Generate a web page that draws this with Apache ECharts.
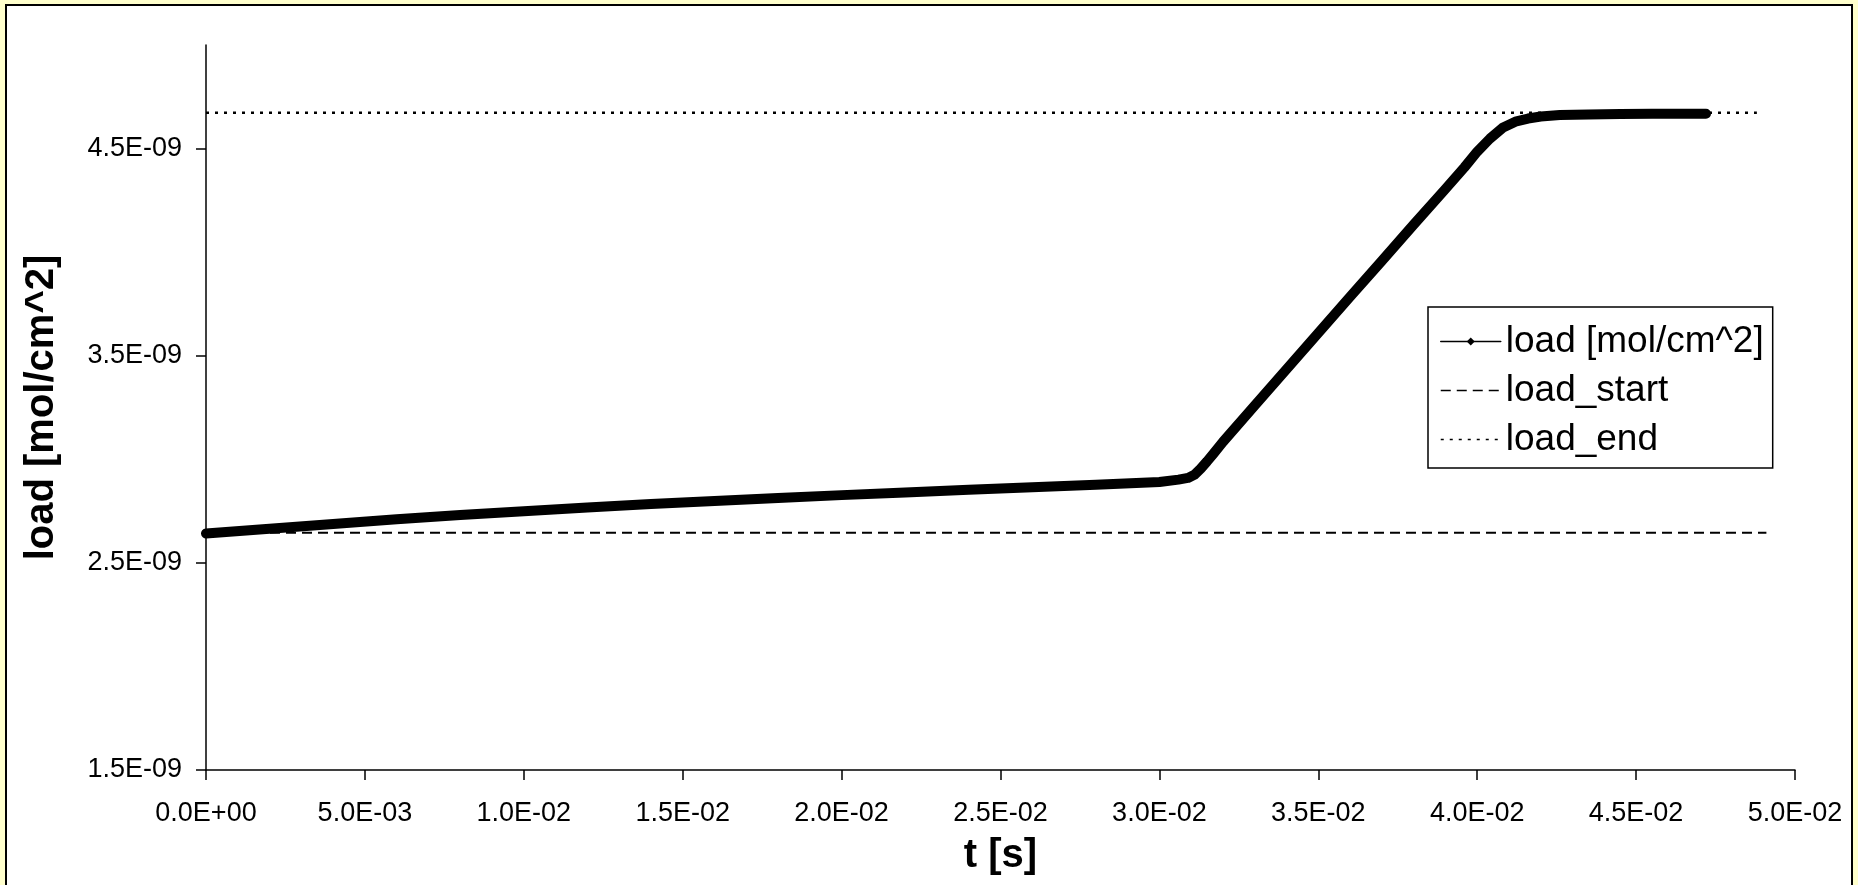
<!DOCTYPE html>
<html>
<head>
<meta charset="utf-8">
<title>load vs t</title>
<script src="https://cdn.jsdelivr.net/npm/echarts@6/dist/echarts.min.js"></script>
<style>
  html, body { margin: 0; padding: 0; background: #FFFFCC; }
  #chart { width: 1858px; height: 885px; }
</style>
</head>
<body>
<div id="chart"></div>
<script>
// Time axis values [s] and surface load [mol/cm^2] of the measured curve
const timeS = [
  0.0000, 0.0020, 0.0040, 0.0060, 0.0080, 0.0100, 0.0120, 0.0140, 0.0160, 0.0180,
  0.0200, 0.0220, 0.0240, 0.0260, 0.0280, 0.0300, 0.0306, 0.0309, 0.0311, 0.0313,
  0.0315, 0.0317, 0.0320, 0.0330, 0.0340, 0.0350, 0.0360, 0.0370, 0.0380, 0.0390,
  0.0396, 0.0400, 0.0404, 0.0408, 0.0412, 0.0416, 0.0420, 0.0426, 0.0435, 0.0445,
  0.0455, 0.0465, 0.0472
];
const loadMol = [
  2.642e-9, 2.665e-9, 2.688e-9, 2.710e-9, 2.731e-9, 2.749e-9, 2.767e-9, 2.784e-9, 2.799e-9, 2.813e-9,
  2.827e-9, 2.840e-9, 2.853e-9, 2.865e-9, 2.877e-9, 2.890e-9, 2.902e-9, 2.910e-9, 2.925e-9, 2.955e-9,
  2.990e-9, 3.027e-9, 3.084e-9, 3.260e-9, 3.435e-9, 3.610e-9, 3.785e-9, 3.958e-9, 4.133e-9, 4.305e-9,
  4.410e-9, 4.485e-9, 4.548e-9, 4.600e-9, 4.630e-9, 4.645e-9, 4.655e-9, 4.662e-9, 4.665e-9, 4.667e-9,
  4.668e-9, 4.668e-9, 4.668e-9
];

// Reference levels: initial and final load
const loadStartT = [0, 0.0491];
const loadStartV = [2.645e-9, 2.645e-9];
const loadEndT = [0, 0.0488];
const loadEndV = [4.673e-9, 4.673e-9];

// Axis ranges and tick positions
const xTicks = [0, 0.005, 0.01, 0.015, 0.02, 0.025, 0.03, 0.035, 0.04, 0.045, 0.05];
const yTicks = [1.5e-9, 2.5e-9, 3.5e-9, 4.5e-9];
const xMin = 0, xMax = 0.05, xStep = 0.005;
const yMin = 1.5e-9, yMax = 5.0e-9;

const names = ['load [mol/cm^2]', 'load_start', 'load_end'];
const FONT = '"Liberation Sans", Arial, sans-serif';

// Scientific notation like 5.0E-03
function sci(v) {
  if (Math.abs(v) < 1e-20) return '0.0E+00';
  const parts = v.toExponential(1).split('e');
  const exp = parseInt(parts[1], 10);
  return parts[0] + 'E' + (exp < 0 ? '-' : '+') + String(Math.abs(exp)).padStart(2, '0');
}

const zip = (a, b) => a.map((x, i) => [x, b[i]]);

const chart = echarts.init(document.getElementById('chart'), null, { renderer: 'canvas' });

chart.setOption({
  backgroundColor: '#FFFFCC',
  animation: false,
  textStyle: { fontFamily: FONT },
  graphic: [{
    type: 'rect',
    z: -10,
    silent: true,
    shape: { x: 6, y: 5, width: 1846, height: 900 },
    style: { fill: '#ffffff', stroke: '#000000', lineWidth: 2 }
  }],
  grid: {
    left: 206, right: 63, top: 45, bottom: 115,
    containLabel: false,
    outerBoundsMode: 'none'
  },
  xAxis: {
    type: 'value',
    min: xMin, max: xMax, interval: xStep,
    name: 't [s]',
    nameLocation: 'middle',
    nameGap: 66,
    nameTextStyle: { fontSize: 40, fontWeight: 'bold', color: '#000', fontFamily: FONT },
    axisLine: { show: true, lineStyle: { color: '#000', width: 1.5 } },
    axisTick: { show: true, inside: false, length: 10, lineStyle: { color: '#000', width: 1.5 }, customValues: xTicks },
    axisLabel: {
      customValues: xTicks,
      formatter: sci, fontSize: 27, color: '#000', margin: 30, fontFamily: FONT
    },
    splitLine: { show: false }
  },
  yAxis: {
    type: 'value',
    min: yMin, max: yMax,
    name: 'load [mol/cm^2]',
    nameLocation: 'middle',
    nameGap: 144,
    nameRotate: 90,
    nameTextStyle: { fontSize: 40, fontWeight: 'bold', color: '#000', fontFamily: FONT },
    axisLine: { show: true, lineStyle: { color: '#000', width: 1.5 } },
    axisTick: { show: true, inside: false, length: 10, lineStyle: { color: '#000', width: 1.5 }, customValues: yTicks },
    axisLabel: {
      customValues: yTicks,
      formatter: sci, fontSize: 27, color: '#000', margin: 24, fontFamily: FONT
    },
    splitLine: { show: false }
  },
  legend: {
    orient: 'vertical',
    left: 1428, top: 307,
    padding: [16, 9, 10, 12],
    itemGap: 12,
    itemWidth: 60, itemHeight: 10,
    backgroundColor: '#ffffff',
    borderColor: '#000000', borderWidth: 1.5, borderRadius: 0,
    textStyle: { fontSize: 37, color: '#000', fontFamily: FONT },
    data: [
      { name: names[0], itemStyle: { color: '#000' }, lineStyle: { width: 1.5, color: '#000' } },
      { name: names[1], itemStyle: { opacity: 0 }, lineStyle: { width: 1.5, color: '#000' } },
      { name: names[2], itemStyle: { opacity: 0 }, lineStyle: { width: 1.5, color: '#000' } }
    ]
  },
  series: [
    {
      name: names[1],
      type: 'line',
      data: zip(loadStartT, loadStartV),
      symbol: 'none',
      lineStyle: { color: '#000', width: 2, type: [10, 6] },
      itemStyle: { color: '#000' },
      z: 2
    },
    {
      name: names[2],
      type: 'line',
      data: zip(loadEndT, loadEndV),
      symbol: 'none',
      lineStyle: { color: '#000', width: 2.5, type: [3, 6] },
      itemStyle: { color: '#000' },
      z: 2
    },
    {
      name: names[0],
      type: 'line',
      data: zip(timeS, loadMol),
      symbol: 'diamond',
      symbolSize: 8,
      showSymbol: false,
      smooth: false,
      clip: false,
      lineStyle: { color: '#000', width: 10, cap: 'round', join: 'round' },
      itemStyle: { color: '#000' },
      z: 3
    }
  ]
});
</script>
</body>
</html>
